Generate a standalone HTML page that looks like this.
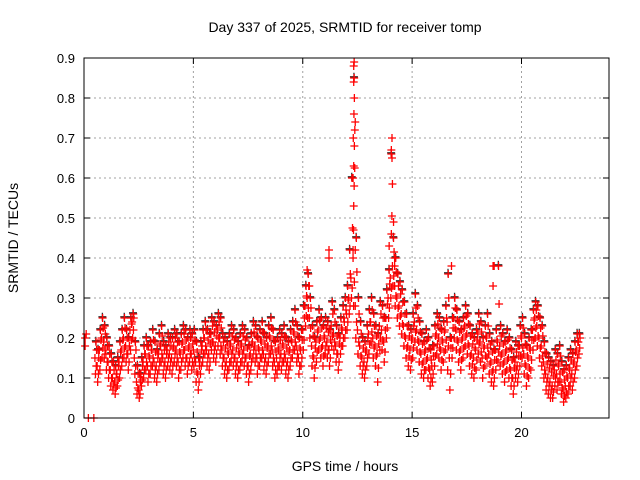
<!DOCTYPE html>
<html><head><meta charset="utf-8"><style>
html,body{margin:0;padding:0;background:#fff}
svg{display:block;font-family:"Liberation Sans",sans-serif}
</style></head><body>
<svg id="chart" width="640" height="480" viewBox="0 0 640 480" xmlns="http://www.w3.org/2000/svg">
<rect width="640" height="480" fill="#fff"/>
<text x="345" y="32" font-size="14" text-anchor="middle">Day 337 of 2025, SRMTID for receiver tomp</text>
<text transform="translate(18,238) rotate(-90)" font-size="14" text-anchor="middle">SRMTID / TECUs</text>
<text x="345" y="471" font-size="14" text-anchor="middle">GPS time / hours</text>
<g id="grid"></g><g id="ticks"></g><g id="marks"></g>
<rect x="84" y="58" width="525" height="360" fill="none" stroke="#000" stroke-width="1"/>
</svg>
<script>
const xTicks=[0,5,10,15,20];
const yTicks=[0,0.1,0.2,0.3,0.4,0.5,0.6,0.7,0.8,0.9];
const startHour=0.5, stepHour=0.1;
const midV=[.15,.13,.17,.20,.19,
.16,.14,.12,.10,.09,.11,.14,.17,.20,.18,
.16,.22,.24,.15,.09,.07,.11,.14,.16,.13,
.15,.17,.14,.13,.16,.18,.15,.14,.17,.16,
.15,.18,.17,.14,.16,.19,.17,.15,.18,.16,
.17,.14,.11,.15,.18,.20,.17,.16,.21,.19,
.18,.22,.20,.17,.15,.14,.16,.18,.17,.15,
.14,.16,.18,.17,.15,.13,.16,.19,.18,.15,
.17,.19,.16,.15,.18,.20,.17,.14,.15,.17,
.16,.18,.15,.14,.17,.19,.21,.18,.15,.17,
.22,.28,.30,.25,.18,.15,.19,.22,.20,.18,
.20,.19,.17,.23,.21,.18,.16,.20,.22,.24,
.26,.30,.35,.40,.28,.22,.18,.15,.14,.17,
.21,.24,.20,.18,.16,.23,.22,.19,.25,.30,
.35,.38,.33,.30,.28,.26,.23,.20,.18,.17,
.20,.24,.22,.19,.16,.14,.17,.15,.12,.13,
.18,.21,.20,.17,.19,.22,.24,.15,.20,.25,
.22,.19,.17,.20,.23,.21,.18,.16,.15,.17,
.21,.19,.15,.18,.20,.16,.14,.12,.17,.19,
.18,.16,.14,.17,.15,.12,.10,.14,.13,.18,
.20,.16,.13,.15,.17,.22,.25,.23,.20,.18,
.14,.11,.10,.09,.08,.12,.11,.13,.09,.07,
.08,.10,.12,.11,.14,.17,.19];
const hiV=[.19,.17,.22,.25,.23,
.20,.18,.16,.14,.13,.15,.19,.22,.25,.22,
.20,.25,.26,.19,.13,.11,.15,.18,.20,.18,
.19,.22,.19,.17,.21,.23,.19,.18,.21,.20,
.20,.22,.21,.19,.21,.23,.22,.20,.22,.21,
.22,.19,.15,.19,.22,.24,.22,.21,.25,.24,
.23,.26,.25,.21,.20,.19,.21,.23,.22,.20,
.19,.21,.23,.22,.20,.18,.21,.24,.23,.20,
.22,.24,.21,.20,.23,.25,.22,.19,.20,.22,
.21,.23,.20,.19,.22,.24,.27,.23,.20,.22,
.28,.33,.36,.30,.23,.20,.24,.27,.25,.23,
.25,.24,.22,.29,.27,.23,.21,.25,.28,.30,
.33,.42,.60,.85,.45,.30,.24,.20,.19,.23,
.27,.30,.26,.23,.21,.29,.28,.25,.32,.37,
.66,.45,.40,.36,.34,.32,.29,.26,.23,.22,
.26,.31,.28,.24,.21,.19,.22,.20,.17,.18,
.23,.26,.25,.22,.24,.28,.36,.20,.25,.30,
.27,.24,.22,.25,.28,.26,.23,.21,.20,.22,
.26,.24,.20,.23,.26,.21,.19,.17,.22,.38,
.23,.21,.19,.22,.20,.17,.15,.19,.18,.23,
.25,.21,.18,.20,.22,.27,.29,.28,.25,.23,
.19,.16,.15,.14,.13,.17,.16,.18,.14,.12,
.13,.15,.17,.16,.19,.21,.21];
const loV=[.11,.09,.12,.15,.15,
.12,.10,.08,.07,.06,.08,.10,.13,.15,.14,
.12,.17,.20,.11,.06,.05,.08,.10,.12,.09,
.11,.13,.10,.09,.12,.14,.11,.10,.13,.12,
.11,.14,.13,.10,.12,.15,.13,.11,.14,.12,
.13,.09,.07,.11,.14,.16,.13,.12,.17,.15,
.14,.18,.16,.13,.11,.10,.12,.14,.13,.11,
.10,.12,.14,.13,.11,.09,.12,.15,.14,.11,
.13,.15,.12,.11,.14,.16,.13,.10,.11,.13,
.12,.14,.11,.10,.13,.15,.17,.14,.11,.13,
.17,.23,.25,.20,.13,.10,.14,.17,.15,.13,
.16,.15,.13,.18,.17,.14,.12,.16,.18,.20,
.22,.26,.30,.28,.20,.16,.13,.11,.10,.13,
.16,.19,.15,.13,.09,.17,.17,.14,.20,.25,
.30,.33,.28,.25,.23,.21,.18,.15,.13,.12,
.15,.19,.17,.14,.11,.10,.12,.10,.08,.09,
.13,.16,.15,.12,.14,.17,.12,.07,.15,.20,
.17,.14,.12,.15,.18,.16,.13,.11,.10,.12,
.16,.14,.10,.13,.15,.11,.09,.08,.12,.14,
.13,.11,.09,.12,.10,.08,.06,.10,.09,.13,
.15,.11,.08,.10,.12,.17,.20,.18,.15,.13,
.10,.07,.06,.05,.05,.08,.07,.09,.06,.04,
.05,.06,.08,.07,.10,.13,.16];
const extraH=[12.3,12.32,12.33,12.35,12.3,12.33,12.36,12.31,12.38,12.34,12.36,12.33,12.33,12.35,12.4,12.4,11.2,11.2,14.08,14.05,14.08,14.1,14.05,14.15,13.95,14.2,14.2,16.8,18.7,18.75,18.7,0.2,0.45,10.2,10.3,0.05,0.05,0.1];
const extraV=[.42,.47,.53,.58,.60,.63,.68,.70,.72,.76,.80,.84,.88,.89,.74,.42,.40,.42,.70,.67,.65,.585,.46,.49,.43,.40,.38,.38,.38,.38,.33,0,0,.37,.33,.20,.18,.21];

const X0=84,X1=609,Y0=418,Y1=58;
const xs=h=>X0+h*(X1-X0)/24;
const ys=v=>Y0-v*(Y0-Y1)/0.9;
const NS="http://www.w3.org/2000/svg";
const grid=document.getElementById('grid'),ticks=document.getElementById('ticks'),marks=document.getElementById('marks');
function mk(tag,attrs,parent){const e=document.createElementNS(NS,tag);for(const k in attrs)e.setAttribute(k,attrs[k]);parent.appendChild(e);return e;}
yTicks.forEach(v=>{const y=ys(v);
 if(v>0){const g=mk('line',{x1:X0,x2:X1,y1:y,y2:y,stroke:'#a0a0a0','stroke-dasharray':'2,3'},grid);
 
 }
 mk('line',{x1:X0,x2:X0+6,y1:y,y2:y,stroke:'#000'},ticks);
 mk('line',{x1:X1,x2:X1-6,y1:y,y2:y,stroke:'#000'},ticks);
 const t=mk('text',{x:X0-9,y:y+5,'font-size':13,'text-anchor':'end'},ticks);t.textContent=v===0?'0':v.toFixed(1);
 
 
});
xTicks.forEach(h=>{const x=xs(h);
 if(h>0){const g=mk('line',{x1:x,x2:x,y1:Y0,y2:Y1,stroke:'#a0a0a0','stroke-dasharray':'2,3'},grid);
 
 }
 mk('line',{x1:x,x2:x,y1:Y0,y2:Y0-6,stroke:'#000'},ticks);
 mk('line',{x1:x,x2:x,y1:Y1,y2:Y1+6,stroke:'#000'},ticks);
 const t=mk('text',{x:x,y:Y0+19,'font-size':13,'text-anchor':'middle'},ticks);t.textContent=h;
 
 
});
function cross(h,v,col){const x=xs(h),y=ys(v);
 const p=mk('path',{d:`M${x-4},${y}H${x+4}M${x},${y-4}V${y+4}`,stroke:col,'stroke-width':1.3,fill:'none'},marks);
 
 
}
hiV.forEach((v,i)=>cross(startHour+i*stepHour+0.04,v+0.003,'#333'));
midV.forEach((v,i)=>cross(startHour+i*stepHour,v,'#f00'));
hiV.forEach((v,i)=>cross(startHour+i*stepHour+0.05,v,'#f00'));
loV.forEach((v,i)=>cross(startHour+i*stepHour+0.025,v,'#f00'));
midV.forEach((v,i)=>cross(startHour+i*stepHour+0.075,(v+hiV[i])/2,'#f00'));
midV.forEach((v,i)=>cross(startHour+i*stepHour+0.06,(v+loV[i])/2,'#f00'));
extraH.forEach((h,i)=>cross(h,extraV[i],'#f00'));
</script>
</body></html>
